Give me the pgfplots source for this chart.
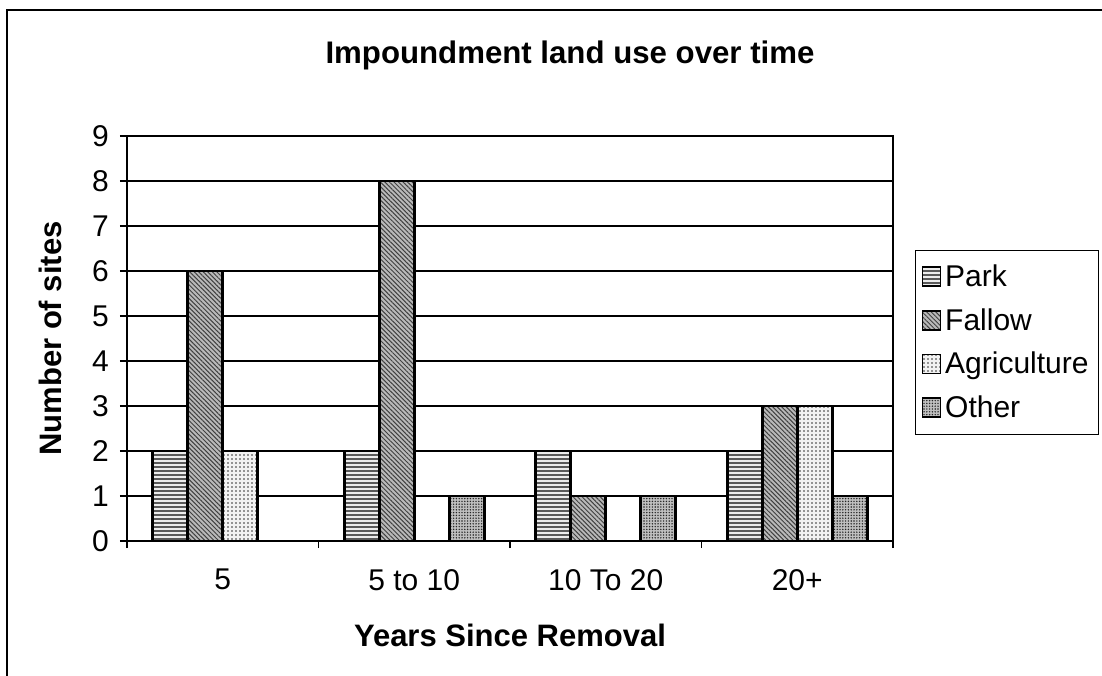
\documentclass[border=0pt]{standalone}
\usepackage{pgfplots}
\pgfplotsset{compat=1.18}
\usepackage{fontspec}
\setmainfont{Liberation Sans}
\usetikzlibrary{patterns,patterns.meta}
\begin{document}
\begin{tikzpicture}[x=1pt,y=1pt]
\begin{axis}[
  scale only axis, width=383pt, height=202.5pt,
  xmin=-0.5, xmax=3.5, ymin=0, ymax=9,
  ybar=0pt, bar width=17.5pt,
  xtick={0,1,2,3},
  xticklabels={5, 5 to 10, 10 To 20, 20+},
  major x tick style={draw=none},
  minor xtick={-0.5,0.5,1.5,2.5,3.5},
  ytick={0,...,9},
  tick align=outside,
  tick pos=left,
  major tick length=3.5pt, minor tick length=3.5pt,
  ymajorgrids,
  grid style={black, line width=0.6pt},
  axis line style={black, line width=0.6pt},
  tick style={black, line width=0.6pt},
  ticklabel style={font=\fontsize{15}{18}\selectfont},
  /pgf/number format/assume math mode=true,
  xticklabel style={yshift=-7pt},
  yticklabel style={xshift=-2pt},
  xlabel={Years Since Removal},
  ylabel={Number of sites},
  label style={font=\bfseries\fontsize{15.5}{18}\selectfont},
  xlabel style={at={(axis description cs:0.5,-0.232)}, anchor=center},
  ylabel style={at={(axis description cs:-0.10,0.5)}, anchor=center},
  legend style={at={(1.0287,0.7185)}, anchor=north west, draw=black, line width=0.6pt,
    font=\fontsize{15}{18}\selectfont, row sep=5.5pt, inner xsep=3pt, inner ysep=5pt,
    legend cell align=left,
    nodes={inner xsep=2pt}},
  legend image code/.code={\draw[#1, line width=0.8pt] (0pt,-4.5pt) rectangle (9pt,5pt);},
]
\coordinate (ll) at (rel axis cs:0,0);
\addplot[draw=black, line width=1.4pt, fill=gray!15, postaction={pattern={Lines[angle=0,distance=2pt,line width=0.6pt]}, pattern color=black!65}]
  coordinates {(0,2) (1,2) (2,2) (3,2)};
\addplot[draw=black, line width=1.4pt, fill=gray!55, postaction={pattern={Lines[angle=-45,distance=1.6pt,line width=0.5pt]}, pattern color=black!75}]
  coordinates {(0,6) (1,8) (2,1) (3,3)};
\addplot[draw=black, line width=1.4pt, fill=gray!10, postaction={pattern={Dots[distance=2pt,radius=0.4pt]}, pattern color=black!80}]
  coordinates {(0,2) (3,3)};
\addplot[draw=black, line width=1.4pt, fill=gray!50, postaction={pattern={Dots[distance=1.4pt,radius=0.4pt]}, pattern color=black!85}]
  coordinates {(1,1) (2,1) (3,1)};
\legend{Park, Fallow, Agriculture, Other}
\end{axis}
\pgfresetboundingbox
\begin{scope}[shift={(ll)}]
\useasboundingbox (-63.5,-67) rectangle (487.5,270.5);
\clip (-63.5,-67) rectangle (487.5,270.5);
\draw[line width=0.8pt] (-60,-80) rectangle (500,265.5);
\node[font=\bfseries\fontsize{15.6}{18}\selectfont] at (221.5,243) {Impoundment land use over time};
\end{scope}
\end{tikzpicture}
\end{document}
